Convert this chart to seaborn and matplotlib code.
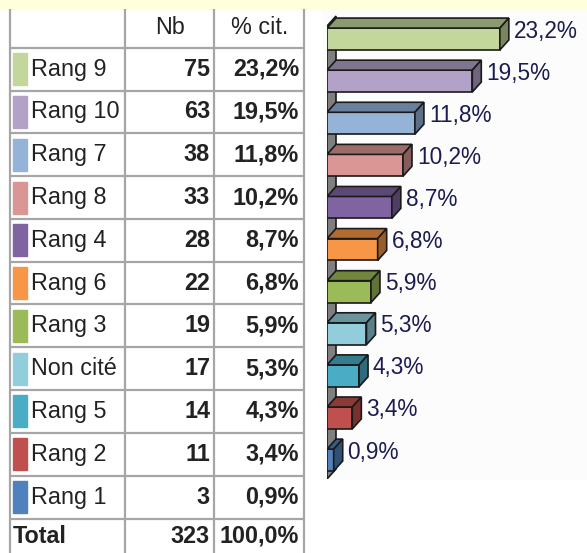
import matplotlib
matplotlib.use('Agg')
import matplotlib.pyplot as plt
import matplotlib.colors as mcolors
from matplotlib.patches import Polygon, Rectangle
import seaborn as sns
import pandas as pd

# data, in table order
categories = ['Rang 9', 'Rang 10', 'Rang 7', 'Rang 8', 'Rang 4', 'Rang 6',
              'Rang 3', 'Non cité', 'Rang 5', 'Rang 2', 'Rang 1']
counts = [75, 63, 38, 33, 28, 22, 19, 17, 14, 11, 3]
percents = [23.2, 19.5, 11.8, 10.2, 8.7, 6.8, 5.9, 5.3, 4.3, 3.4, 0.9]
colors = ['#C3D69B', '#B2A2C7', '#95B3D7', '#D99694', '#8064A2', '#F79646',
          '#9BBB59', '#92CDDC', '#4BACC6', '#C0504D', '#4F81BD']
total_count = 323
total_pct = 100.0


def fmt_pct(v):
    return f"{v:.1f}".replace('.', ',') + '%'


def shade(c, f):
    r, g, b = mcolors.to_rgb(c)
    return (r * f, g * f, b * f)


df = pd.DataFrame({'cat': categories, 'pct': percents})

sns.set_style('white')
plt.rcParams['font.family'] = ['Liberation Sans', 'DejaVu Sans']

W, H = 587, 553
fig = plt.figure(figsize=(W / 100, H / 100), dpi=100)
fig.patch.set_facecolor('white')

# ---- table (pixel coordinates) ----
tab = fig.add_axes([0, 0, 1, 1])
tab.set_xlim(0, W)
tab.set_ylim(H, 0)
tab.axis('off')
tab.add_patch(Rectangle((0, 0), W, 9, color='#FFFFDC', zorder=0))

line_c = '#A6A6A6'
head_bottom = 47.7
row_h = 42.8
for xv in [10, 125, 214, 304]:
    tab.plot([xv, xv], [9, H], color=line_c, lw=1.6, solid_capstyle='butt')
for k in range(len(categories) + 1):
    yv = head_bottom + k * row_h
    tab.plot([10, 304], [yv, yv], color=line_c, lw=1.6, solid_capstyle='butt')

fs = 16.8
txt_c = '#222222'
tab.text(170, 28, 'Nb', ha='center', va='center', fontsize=fs, color=txt_c)
tab.text(260, 28, '% cit.', ha='center', va='center', fontsize=fs, color=txt_c)
for i, (cat, n, p, c) in enumerate(zip(categories, counts, percents, colors)):
    yc = head_bottom + (i + 0.5) * row_h
    tab.add_patch(Rectangle((13, yc - 16), 14, 32, color=c))
    tab.text(31, yc, cat, ha='left', va='center', fontsize=fs, color=txt_c)
    tab.text(210, yc, str(n), ha='right', va='center', fontsize=fs,
             fontweight='bold', color=txt_c)
    tab.text(299, yc, fmt_pct(p), ha='right', va='center', fontsize=fs,
             fontweight='bold', color=txt_c)
yt = head_bottom + len(categories) * row_h + 18
tab.text(13, yt, 'Total', ha='left', va='center', fontsize=fs,
         fontweight='bold', color=txt_c)
tab.text(210, yt, str(total_count), ha='right', va='center', fontsize=fs,
         fontweight='bold', color=txt_c)
tab.text(299, yt, fmt_pct(total_pct), ha='right', va='center', fontsize=fs,
         fontweight='bold', color=txt_c)

# ---- 3D-looking bar chart ----
x0, x1, ytop, ybot = 327, 587, 9, 479
ax = fig.add_axes([x0 / W, (H - ybot) / H, (x1 - x0) / W, (ybot - ytop) / H])
fig.add_artist(Rectangle(((x0 - 4) / W, (H - ybot) / H), (x1 - x0 + 4) / W,
                         (ybot - ytop) / H, transform=fig.transFigure,
                         color='#FCFCFC', zorder=-1))
ax.set_facecolor('none')

sns.barplot(data=df, x='pct', y='cat', hue='cat', palette=colors,
            orient='h', width=0.52, saturation=1, legend=False, ax=ax,
            edgecolor='#1A1A1A', linewidth=1.2, zorder=3)

xmax = 260 / 7.45
ax.set_xlim(0, xmax)
ylo, yhi = 10.45, -0.713
ax.set_ylim(ylo, yhi)
dx = 9 * xmax / 260
dy = 10 * (ylo - yhi) / 470

# grey side wall
wall = Polygon([(0, ylo), (0, -0.26 - dy * 0.2), (dx, -0.26 - dy * 1.2),
                (dx, ylo - dy)], closed=True, facecolor='#7F7F7F',
               edgecolor='#1A1A1A', lw=1.2, zorder=1)
ax.add_patch(wall)

for bar, c, v in zip(ax.patches[:len(categories)], colors, percents):
    bx, by = bar.get_x(), bar.get_y()
    bw, bh = bar.get_width(), bar.get_height()
    top = Polygon([(bx, by), (bx + dx, by - dy), (bx + bw + dx, by - dy),
                   (bx + bw, by)], closed=True, facecolor=shade(c, 0.72),
                  edgecolor='#1A1A1A', lw=1.2, zorder=3)
    side = Polygon([(bx + bw, by), (bx + bw + dx, by - dy),
                    (bx + bw + dx, by + bh - dy), (bx + bw, by + bh)],
                   closed=True, facecolor=shade(c, 0.62),
                   edgecolor='#1A1A1A', lw=1.2, zorder=3)
    ax.add_patch(top)
    ax.add_patch(side)
    ax.annotate(fmt_pct(v), xy=(bx + bw + dx, by + bh / 2 - 0.8 * dy),
                xytext=(3.5, 0), textcoords='offset points', va='center',
                ha='left', fontsize=16.3, color='#1C1C50')

ax.set_xlabel('')
ax.set_ylabel('')
ax.set_xticks([])
ax.set_yticks([])
sns.despine(ax=ax, left=True, bottom=True)

fig.savefig('out.png', dpi=100)
